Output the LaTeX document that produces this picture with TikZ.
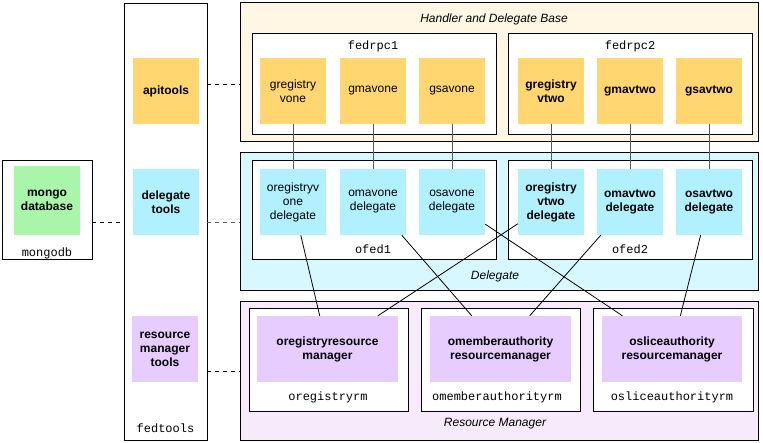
\documentclass[tikz,border=0pt]{standalone}
\usepackage{fontspec}
\setmainfont{Liberation Sans}
\setmonofont{Liberation Mono}
\definecolor{yel}{HTML}{FFD670}
\definecolor{cya}{HTML}{B1F1FF}
\definecolor{grn}{HTML}{A9F5A9}
\definecolor{pur}{HTML}{E6CCFF}
\definecolor{bgyel}{HTML}{FFF7E3}
\definecolor{bgcya}{HTML}{D8F8FF}
\definecolor{bgpur}{HTML}{F7EAFB}
\tikzset{
  basefont/.style={font=\fontsize{12}{14}\selectfont},
  cont/.style={draw=black, line width=1pt, rectangle, inner sep=0pt},
  comp/.style={rectangle, inner sep=0pt, align=center, minimum width=66pt, minimum height=66pt, basefont},
  captxt/.style={inner sep=0pt, font=\fontsize{12}{14}\selectfont\ttfamily},
  ttl/.style={inner sep=0pt, font=\fontsize{12}{14}\selectfont\itshape},
  link/.style={line width=0.8pt, black},
  vlink/.style={line width=1pt, black!65},
  dlink/.style={line width=0.8pt, black, dash pattern=on 4pt off 4pt},
}
\begin{document}
\begin{tikzpicture}[x=1pt,y=-1pt]
\useasboundingbox (0,0) rectangle (763,443);
% outer containers
\node[cont, fill=white, minimum width=90pt, minimum height=99pt] (mongodb) at (47,210.5) {};
\node[cont, fill=white, minimum width=83pt, minimum height=436pt] (fedtools) at (165.5,222) {};
\node[cont, fill=bgyel, minimum width=518pt, minimum height=139pt] (hdb) at (499,72.5) {};
\node[cont, fill=bgcya, minimum width=518pt, minimum height=138pt] (dlg) at (499,222) {};
\node[cont, fill=bgpur, minimum width=518pt, minimum height=138pt] (rmc) at (499,371) {};
% inner containers
\node[cont, fill=white, minimum width=244pt, minimum height=101pt] (fedrpc1) at (374,84.5) {};
\node[cont, fill=white, minimum width=244pt, minimum height=101pt] (fedrpc2) at (630,84.5) {};
\node[cont, fill=white, minimum width=244pt, minimum height=99pt] (ofed1) at (374,210.5) {};
\node[cont, fill=white, minimum width=244pt, minimum height=99pt] (ofed2) at (630,210.5) {};
\node[cont, fill=white, minimum width=159pt, minimum height=103pt] (oregrm) at (328.5,360.5) {};
\node[cont, fill=white, minimum width=159pt, minimum height=103pt] (omemrm) at (500.5,360.5) {};
\node[cont, fill=white, minimum width=160pt, minimum height=103pt] (oslirm) at (673,360.5) {};
% captions
\node[ttl] (thdb) at (494,19) {Handler and Delegate Base};
\node[ttl] (tdlg) at (495,276) {Delegate};
\node[ttl] (trmc) at (495,424) {Resource Manager};
\node[captxt] (tfedrpc1) at (373,46) {fedrpc1};
\node[captxt] (tfedrpc2) at (630,46) {fedrpc2};
\node[captxt] (tofed1) at (373,249) {ofed1};
\node[captxt] (tofed2) at (630,249) {ofed2};
\node[captxt] (toregrm) at (328,397) {oregistryrm};
\node[captxt] (tomemrm) at (497,397) {omemberauthorityrm};
\node[captxt] (toslirm) at (672,397) {osliceauthorityrm};
\node[captxt] (tmongodb) at (47,253) {mongodb};
\node[captxt] (tfedtools) at (165.5,428) {fedtools};
% components
\node[comp, fill=grn, minimum height=69pt, font=\fontsize{12}{14}\selectfont\bfseries] (mongo) at (47,200.5) {mongo\\database};
\node[comp, fill=yel, font=\fontsize{12}{14}\selectfont\bfseries] (apitools) at (166,91) {apitools};
\node[comp, fill=cya, font=\fontsize{12}{14}\selectfont\bfseries] (dtools) at (166,202) {delegate\\tools};
\node[comp, fill=pur, font=\fontsize{12}{14}\selectfont\bfseries] (rmtools) at (165,349) {resource\\manager\\tools};
\node[comp, fill=yel] (g1) at (293,91) {gregistry\\vone};
\node[comp, fill=yel] (g2) at (373,91) {gmavone};
\node[comp, fill=yel] (g3) at (452,91) {gsavone};
\node[comp, fill=yel, font=\fontsize{12}{14}\selectfont\bfseries] (g4) at (551,91) {gregistry\\vtwo};
\node[comp, fill=yel, font=\fontsize{12}{14}\selectfont\bfseries] (g5) at (630,91) {gmavtwo};
\node[comp, fill=yel, font=\fontsize{12}{14}\selectfont\bfseries] (g6) at (709,91) {gsavtwo};
\node[comp, fill=cya] (o1) at (293,202) {oregistryv\\one\\delegate};
\node[comp, fill=cya] (o2) at (373,202) {omavone\\delegate};
\node[comp, fill=cya] (o3) at (452,202) {osavone\\delegate};
\node[comp, fill=cya, font=\fontsize{12}{14}\selectfont\bfseries] (o4) at (551,202) {oregistry\\vtwo\\delegate};
\node[comp, fill=cya, font=\fontsize{12}{14}\selectfont\bfseries] (o5) at (630,202) {omavtwo\\delegate};
\node[comp, fill=cya, font=\fontsize{12}{14}\selectfont\bfseries] (o6) at (709,202) {osavtwo\\delegate};
\node[comp, fill=pur, minimum width=141pt, font=\fontsize{12}{14}\selectfont\bfseries] (r1) at (327.5,349) {oregistryresource\\manager};
\node[comp, fill=pur, minimum width=141pt, font=\fontsize{12}{14}\selectfont\bfseries] (r2) at (500.5,349) {omemberauthority\\resourcemanager};
\node[comp, fill=pur, minimum width=140pt, font=\fontsize{12}{14}\selectfont\bfseries] (r3) at (672,349) {osliceauthority\\resourcemanager};
% dashed links
\coordinate (m1) at (92,222);
\coordinate (m2) at (124,222);
\coordinate (a1) at (207,84);
\coordinate (a2) at (240,84);
\coordinate (d1) at (207,222);
\coordinate (d2) at (240,222);
\coordinate (s1) at (207,371);
\coordinate (s2) at (240,371);
\draw[dlink] (m1) -- (m2);
\draw[dlink] (a1) -- (a2);
\draw[dlink, black!60] (d1) -- (d2);
\draw[dlink] (s1) -- (s2);
% vertical links
\foreach \i in {1,...,6} { \draw[vlink] (g\i) -- (o\i); }
% diagonal links
\draw[link] (o1) -- (r1);
\draw[link] (o4) -- (r1);
\draw[link] (o2) -- (r2);
\draw[link] (o5) -- (r2);
\draw[link] (o3) -- (r3);
\draw[link] (o6) -- (r3);
\end{tikzpicture}
\end{document}
